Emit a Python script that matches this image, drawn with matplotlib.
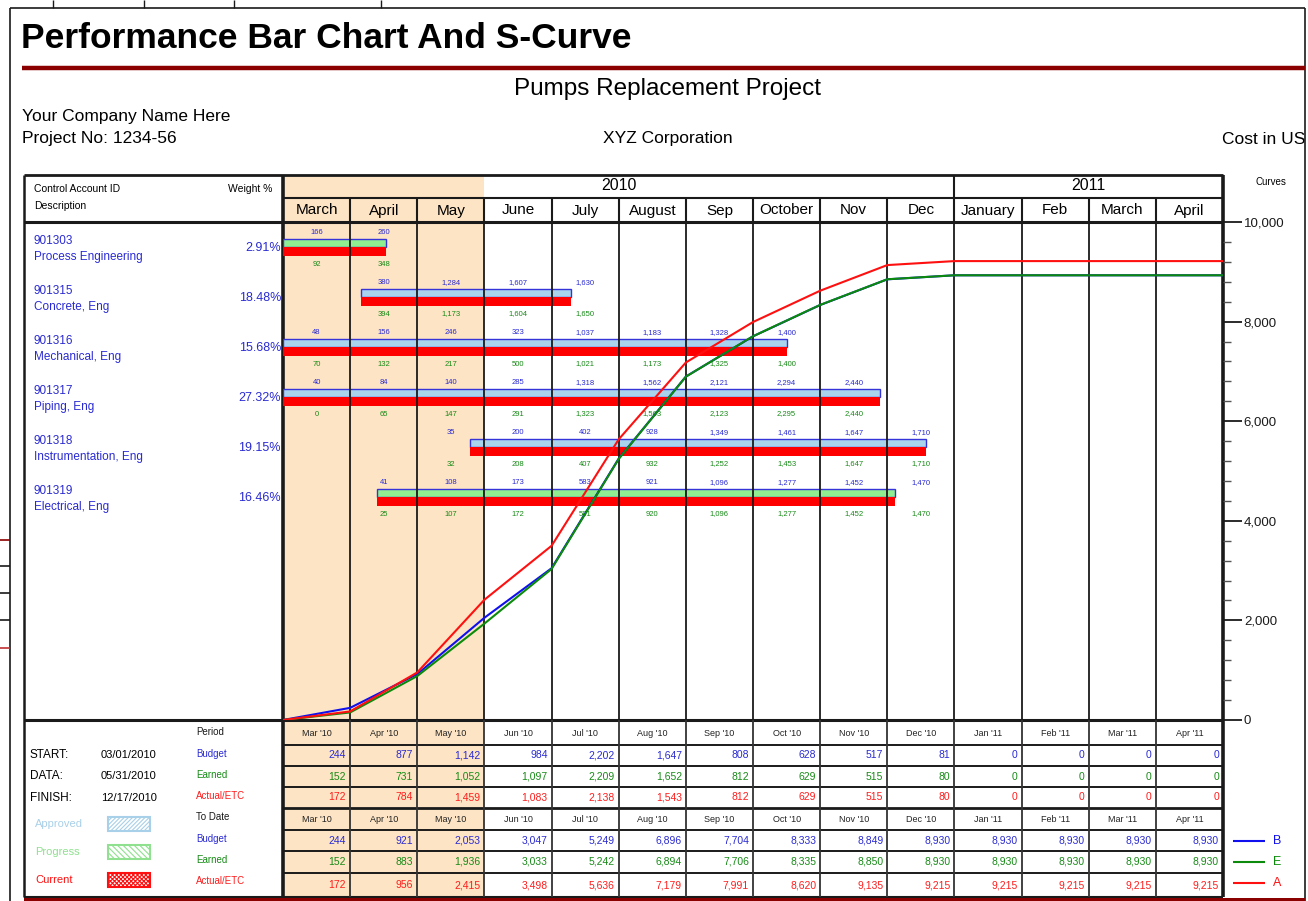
import matplotlib
matplotlib.use("Agg")
import matplotlib.pyplot as plt
from matplotlib.patches import Rectangle
from matplotlib.ticker import MultipleLocator, FuncFormatter
import numpy as np

plt.rcParams['font.family'] = ['Liberation Sans', 'DejaVu Sans']
plt.rcParams['hatch.linewidth'] = 0.8

# ---------------- data ----------------
months = ["March", "April", "May", "June", "July", "August", "Sep", "October",
          "Nov", "Dec", "January", "Feb", "March", "April"]
period_labels = ["Mar '10", "Apr '10", "May '10", "Jun '10", "Jul '10", "Aug '10",
                 "Sep '10", "Oct '10", "Nov '10", "Dec '10", "Jan '11", "Feb '11",
                 "Mar '11", "Apr '11"]
year_names = ["2010", "2011"]
year_spans = [(0, 10), (10, 14)]
status_months = 3  # months up to the data date (05/31/2010)

account_ids = ["901303", "901315", "901316", "901317", "901318", "901319"]
descriptions = ["Process Engineering", "Concrete, Eng", "Mechanical, Eng",
                "Piping, Eng", "Instrumentation, Eng", "Electrical, Eng"]
weights = ["2.91%", "18.48%", "15.68%", "27.32%", "19.15%", "16.46%"]
bar_start = [0.0, 1.16, 0.0, 0.0, 2.79, 1.40]      # in months from 03/01/2010
bar_finish = [1.53, 4.29, 7.51, 8.89, 9.58, 9.12]
progress_full = [True, False, False, False, False, True]
label_first_month = [0, 1, 0, 0, 2, 1]
budget_labels = [
    [166, 260],
    [380, 1284, 1607, 1630],
    [48, 156, 246, 323, 1037, 1183, 1328, 1400],
    [40, 84, 140, 285, 1318, 1562, 2121, 2294, 2440],
    [35, 200, 402, 928, 1349, 1461, 1647, 1710],
    [41, 108, 173, 583, 921, 1096, 1277, 1452, 1470],
]
earned_labels = [
    [92, 348],
    [394, 1173, 1604, 1650],
    [70, 132, 217, 500, 1021, 1173, 1325, 1400],
    [0, 65, 147, 291, 1323, 1563, 2123, 2295, 2440],
    [32, 208, 407, 932, 1252, 1453, 1647, 1710],
    [25, 107, 172, 581, 920, 1096, 1277, 1452, 1470],
]

period_budget = [244, 877, 1142, 984, 2202, 1647, 808, 628, 517, 81, 0, 0, 0, 0]
period_earned = [152, 731, 1052, 1097, 2209, 1652, 812, 629, 515, 80, 0, 0, 0, 0]
period_actual = [172, 784, 1459, 1083, 2138, 1543, 812, 629, 515, 80, 0, 0, 0, 0]
todate_budget = [244, 921, 2053, 3047, 5249, 6896, 7704, 8333, 8849, 8930, 8930, 8930, 8930, 8930]
todate_earned = [152, 883, 1936, 3033, 5242, 6894, 7706, 8335, 8850, 8930, 8930, 8930, 8930, 8930]
todate_actual = [172, 956, 2415, 3498, 5636, 7179, 7991, 8620, 9135, 9215, 9215, 9215, 9215, 9215]

# ---------------- style ----------------
BLUE_TXT = "#2a2ad2"
GREEN_TXT = "#178a17"
RED_TXT = "#ff1c1c"
PEACH = "#fde4c4"
DARK_RED = "#8b0000"
LINE = "#1a1a1a"
APPROVED = "#a9d4ec"
PROGRESS = "#90ee90"

W, H = 1308, 901
fig = plt.figure(figsize=(W / 100, H / 100), dpi=100)
bg = fig.add_axes([0, 0, 1, 1])
bg.set_xlim(0, W)
bg.set_ylim(H, 0)
bg.axis('off')

# page layout (pixels)
X0, X1 = 283, 1223
Y_TOP, Y_BOT = 222, 720
Y_HDR, Y_YEAR = 175, 198
Y_END = 897
PL = 24
n = len(months)
colw = (X1 - X0) / n


def cx(i):
    return X0 + i * colw


def hline(y, x0, x1, lw=1.5, c=LINE, z=5):
    bg.plot([x0, x1], [y, y], color=c, lw=lw, zorder=z, solid_capstyle='butt')


def vline(x, y0, y1, lw=1.5, c=LINE, z=5):
    bg.plot([x, x], [y0, y1], color=c, lw=lw, zorder=z, solid_capstyle='butt')


# outer page frame and stray spreadsheet marks
hline(8, 10, 1305, lw=1.2)
vline(10, 8, H, lw=1.2)
vline(1305, 8, H, lw=1.2)
for x in [53, 144, 234, 381]:
    vline(x, 0, 8, lw=1.0)
for y, c in [(540, DARK_RED), (566, LINE), (593, LINE), (620, LINE), (648, "#c03030")]:
    hline(y, 0, 10, lw=1.2, c=c)

# titles
bg.text(21, 39, "Performance Bar Chart And S-Curve", fontsize=25.5, fontweight='bold',
        va='center', ha='left')
hline(68, 22, 1305, lw=3.2, c=DARK_RED)
bg.text(668, 89, "Pumps Replacement Project", fontsize=17.5, ha='center', va='center')
bg.text(22, 116, "Your Company Name Here", fontsize=12.5, va='center')
bg.text(22, 139, "Project No: 1234-56", fontsize=12.5, va='center')
bg.text(668, 139, "XYZ Corporation", fontsize=12.5, ha='center', va='center')
bg.text(1222, 139, "Cost in US", fontsize=12.5, va='center')

# status-period shading
bg.add_patch(Rectangle((X0, Y_HDR), status_months * colw, Y_END - Y_HDR,
                       fc=PEACH, ec='none', zorder=0))

# header frame
hline(Y_HDR, PL, X1, lw=2)
hline(Y_YEAR, X0, X1, lw=1.5)
hline(Y_TOP, PL, X1, lw=2.2)
vline(PL, Y_HDR, Y_END, lw=1.8)
vline(X0, Y_HDR, Y_END, lw=2.6)
vline(X1, Y_HDR, Y_END, lw=2.6)
for name, (a, b) in zip(year_names, year_spans):
    bg.text((cx(a) + cx(b)) / 2, 186, name, fontsize=11.5, ha='center', va='center')
    if a > 0:
        vline(cx(a), Y_HDR, Y_YEAR, lw=1.5)
for i, m in enumerate(months):
    bg.text(cx(i) + colw / 2, 210.5, m, fontsize=11, ha='center', va='center')
for i in range(1, n):
    vline(cx(i), Y_YEAR, Y_TOP, lw=1.5)

bg.text(34, 189, "Control Account ID", fontsize=7.5, va='center')
bg.text(34, 206, "Description", fontsize=7.5, va='center')
bg.text(272, 189, "Weight %", fontsize=7.5, va='center', ha='right')

# account labels on the left
ROW_PX = 50
for r in range(len(account_ids)):
    yc = Y_TOP + 25 + ROW_PX * r
    bg.text(34, yc - 6, account_ids[r], fontsize=8.5, color=BLUE_TXT, va='center')
    bg.text(34, yc + 10, descriptions[r], fontsize=8.5, color=BLUE_TXT, va='center')
    bg.text(281, yc + 1, weights[r], fontsize=9, color=BLUE_TXT, va='center', ha='right')

# ---------------- bar chart axes ----------------
ax = fig.add_axes([X0 / W, 1 - Y_BOT / H, (X1 - X0) / W, (Y_BOT - Y_TOP) / H])
ax.set_xlim(0, n)
ax.set_ylim((Y_BOT - Y_TOP) / ROW_PX, 0)
ax.patch.set_alpha(0)
for s in ax.spines.values():
    s.set_visible(False)
ax.set_xticks([])
ax.set_yticks([])

ax.vlines(np.arange(1, n), 0, (Y_BOT - Y_TOP) / ROW_PX, colors=LINE, lw=1.3, zorder=3)

TOP_H, RED_H = 0.16, 0.18
for r in range(len(account_ids)):
    yc = r + 0.5
    dur = bar_finish[r] - bar_start[r]
    ax.barh(yc - TOP_H, dur, left=bar_start[r], height=TOP_H, align='edge',
            color=PROGRESS if progress_full[r] else APPROVED,
            edgecolor="#3434d8", lw=1.0, zorder=2)
    ax.barh(yc, dur, left=bar_start[r], height=RED_H, align='edge',
            color="#ff0000", edgecolor='none', zorder=2)
    for k, v in enumerate(budget_labels[r]):
        ax.text(label_first_month[r] + k + 0.5, yc - 0.28, f"{v:,}", fontsize=5.5,
                color=BLUE_TXT, ha='center', va='center', zorder=4)
    for k, v in enumerate(earned_labels[r]):
        ax.text(label_first_month[r] + k + 0.5, yc + 0.34, f"{v:,}", fontsize=5.5,
                color=GREEN_TXT, ha='center', va='center', zorder=4)

# ---------------- S-curve axes ----------------
axc = ax.twinx()
axc.set_ylim(0, 10000)
axc.set_xlim(0, n)
for side in ['left', 'top', 'bottom', 'right']:
    axc.spines[side].set_visible(False)
axc.yaxis.set_major_locator(MultipleLocator(2000))
axc.yaxis.set_minor_locator(MultipleLocator(400))
axc.yaxis.set_major_formatter(FuncFormatter(lambda v, p: f"{int(v):,}"))
axc.tick_params(axis='y', which='major', length=14, width=1.3, direction='out',
                pad=1, labelsize=9.5, colors=LINE)
axc.tick_params(axis='y', which='minor', length=6, width=1.0, direction='out', colors="#555555")
axc.set_xticks([])

xs = np.arange(n + 1)
axc.plot(xs, [0] + todate_budget, color="#1010ee", lw=1.5, zorder=5)
axc.plot(xs, [0] + todate_earned, color="#0b8a0b", lw=1.5, zorder=6)
axc.plot(xs, [0] + todate_actual, color="#ff1010", lw=1.5, zorder=7)

bg.text(1271, 182, "Curves", fontsize=7, ha='center', va='center')

# ---------------- bottom table ----------------
row_lines = [745, 766, 787, 808, 830, 851, 873]
hline(Y_BOT, PL, X1, lw=2.2)
for y in row_lines:
    hline(y, X0, X1, lw=2.0 if y in (808,) else 1.4)
hline(Y_END, PL, X1, lw=1.5)
for i in range(1, n):
    vline(cx(i), Y_BOT, Y_END, lw=1.3, c="#333333")

row_centers = [733.5, 755.5, 776.5, 797.5, 819, 840.5, 862, 885]
table_rows = [
    (None, LINE), (period_budget, BLUE_TXT), (period_earned, GREEN_TXT),
    (period_actual, RED_TXT), (None, LINE), (todate_budget, BLUE_TXT),
    (todate_earned, GREEN_TXT), (todate_actual, RED_TXT),
]
for (vals, col), yc in zip(table_rows, row_centers):
    for i in range(n):
        if vals is None:
            bg.text(cx(i) + colw / 2, yc, period_labels[i], fontsize=6.5,
                    ha='center', va='center', color="#222222")
        else:
            bg.text(cx(i + 1) - 4, yc, f"{vals[i]:,}", fontsize=7.5,
                    ha='right', va='center', color=col)

row_titles = [("Period", LINE), ("Budget", BLUE_TXT), ("Earned", GREEN_TXT),
              ("Actual/ETC", RED_TXT), ("To Date", LINE), ("Budget", BLUE_TXT),
              ("Earned", GREEN_TXT), ("Actual/ETC", RED_TXT)]
for (t, c), yc in zip(row_titles, [732, 754, 775, 796, 817, 839, 860, 881]):
    bg.text(196, yc, t, fontsize=7, color=c, va='center')

for lab, val, yc in [("START:", "03/01/2010", 755), ("DATA:", "05/31/2010", 776),
                     ("FINISH:", "12/17/2010", 798)]:
    bg.text(30, yc, lab, fontsize=8.5, va='center')
    bg.text(101, yc, val, fontsize=8, va='center')

legend_items = [("Approved", "#a8d0e8", "#a8d0e8", "////////", 824),
                ("Progress", "#8fe08f", "#8fe08f", "\\\\\\\\\\\\", 852),
                ("Current", "#ff1010", "#ff1010", "xxxxxxxx", 880)]
for lab, tc, hc, hatch, yc in legend_items:
    bg.text(35, yc, lab, fontsize=8, color=tc, va='center')
    bg.add_patch(Rectangle((108, yc - 7), 42, 14, fc='white', ec=hc, lw=1.5,
                           hatch=hatch, zorder=3))

for lab, c, yc in [("B", "#1010ee", 841), ("E", "#0b8a0b", 862), ("A", "#ff1010", 883)]:
    hline(yc, 1233, 1265, lw=1.5, c=c)
    bg.text(1273, yc, lab, fontsize=9, color=c, va='center')

bg.add_patch(Rectangle((PL, Y_END + 1), 1305 - PL, 5, fc=DARK_RED, ec='none', zorder=6))

fig.savefig("out.png", dpi=100)
